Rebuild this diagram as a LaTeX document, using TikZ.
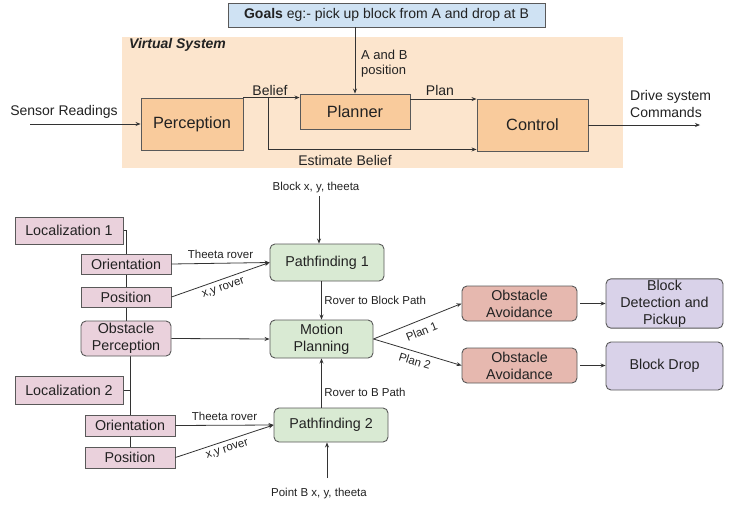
\documentclass[tikz,border=0pt]{standalone}
\usepackage{fontspec}
\setmainfont{Liberation Sans}
\usetikzlibrary{arrows.meta,backgrounds,calc}
\definecolor{vsbg}{HTML}{FCE5CD}
\definecolor{orfill}{HTML}{F9CB9C}
\definecolor{goalfill}{HTML}{CFE2F3}
\definecolor{pinkfill}{HTML}{EAD1DC}
\definecolor{greenfill}{HTML}{D9EAD3}
\definecolor{redfill}{HTML}{E6B8AF}
\definecolor{purpfill}{HTML}{D9D2E9}
\definecolor{bordc}{HTML}{595959}
\definecolor{linec}{HTML}{333333}
\definecolor{txtc}{HTML}{222222}
\newcommand\myTopFont{\fontsize{16.3}{19}\selectfont}
\newcommand\myMidFont{\fontsize{14}{17}\selectfont}
\newcommand\myLowFont{\fontsize{14.3}{17}\selectfont}
\newcommand\mySmallFont{\fontsize{11.5}{13}\selectfont}
\tikzset{
  base/.style={draw=bordc, line width=0.9pt, inner sep=1pt, align=center, text=txtc},
  sz/.style 2 args={minimum width=#1pt, minimum height=#2pt},
  topbox/.style={base, fill=orfill, font=\myTopFont},
  pinkbox/.style={base, fill=pinkfill, font=\myLowFont},
  pinkround/.style={pinkbox, rounded corners=5pt},
  greenbox/.style={base, fill=greenfill, rounded corners=5pt, font=\myLowFont},
  redbox/.style={base, fill=redfill, rounded corners=5pt, font=\myLowFont},
  purpbox/.style={base, fill=purpfill, rounded corners=5pt, font=\myLowFont},
  arr/.style={-{Stealth[length=5pt,width=4pt]}, line width=0.8pt, draw=linec},
  conn/.style={line width=0.8pt, draw=linec},
  lbl/.style={font=\mySmallFont, text=txtc, inner sep=1.5pt},
  toplbl/.style={font=\myMidFont, text=txtc, inner sep=1pt},
}
\begin{document}
\begin{tikzpicture}[x=1pt,y=-1pt]
\useasboundingbox (0,0) rectangle (746,508);
\begin{scope}[on background layer]
\fill[white] (0,0) rectangle (746,508);
\end{scope}

% ---------- top: virtual system ----------
\node[fill=vsbg, inner sep=0pt, sz={501}{131}] (vs) at (372.5,102.5) {};
\node[anchor=west, font=\bfseries\itshape\myMidFont, text=txtc, inner sep=1pt] (vslabel) at (128,45) {Virtual System};

\node[base, fill=goalfill, sz={317}{24}, font=\myMidFont] (goals) at (386.5,15) {\textbf{Goals} eg:- pick up block from A and drop at B};
\node[topbox, sz={102}{52}] (perc) at (192,124) {Perception};
\node[topbox, sz={110}{35}] (plan) at (355,111.5) {Planner};
\node[topbox, sz={111}{52}] (ctrl) at (532.5,125) {Control};

\coordinate (sens) at (30,124);
\draw[arr] (sens) -- (perc.west);
\node[toplbl] (senslbl) at (64,112) {Sensor Readings};

\draw[arr] (perc.north east) -- (perc.north east -| plan.west);
\node[toplbl] (belief) at (270,90) {Belief};
\coordinate (eb) at (268,98);
\draw[arr] (eb) |- ($(ctrl.south west)+(0,-2)$);
\node[toplbl] (estb) at (345,160) {Estimate Belief};

\draw[arr] (goals.south -| plan.north) -- (plan.north);
\node[toplbl, anchor=west, align=left, font=\fontsize{13}{15}\selectfont] (ab) at (360,63.5) {A and B\\position};

\path ($(plan.north east)+(0,5.5)$) coordinate (pl);
\draw[arr] (pl) -- (pl -| ctrl.west);
\node[toplbl] (planlbl) at (440,90) {Plan};

\coordinate (out) at (700,125);
\draw[arr] (ctrl.east) -- (out);
\node[toplbl, anchor=west, align=left] (drive) at (629,103.5) {Drive system\\Commands};

% ---------- lower part ----------
\node[pinkbox, sz={108}{27}] (loc1) at (69,230.5) {Localization 1};
\node[pinkbox, sz={90}{20}] (ori1) at (126,264) {Orientation};
\node[pinkbox, sz={90}{20}] (pos1) at (126,297) {Position};
\node[pinkround, sz={90}{35}] (obsp) at (126,338.5) {Obstacle\\Perception};
\node[pinkbox, sz={108}{28}] (loc2) at (69,390) {Localization 2};
\node[pinkbox, sz={90}{21}] (ori2) at (130,425.5) {Orientation};
\node[pinkbox, sz={90}{21}] (pos2) at (130,457.5) {Position};

\node[greenbox, sz={114}{37}] (pf1) at (327,262.5) {Pathfinding 1};
\node[greenbox, sz={103}{38}] (mp) at (321.5,339) {Motion\\Planning};
\node[greenbox, sz={114}{34}] (pf2) at (331,425) {Pathfinding 2};

\node[redbox, sz={115}{35}] (oa1) at (519.5,303.5) {Obstacle\\Avoidance};
\node[redbox, sz={115}{35}] (oa2) at (519.5,365.5) {Obstacle\\Avoidance};
\node[purpbox, sz={117}{49}] (bdp) at (664.5,303.5) {Block\\Detection and\\Pickup};
\node[purpbox, sz={117}{48}] (bd) at (664.5,366) {Block Drop};

\begin{scope}[on background layer]
\draw[conn] (loc1.east) -| (obsp.north);
\draw[conn] (obsp.south -| ori2.north) -- (pos2.north);
\draw[conn] (loc2.east) -- (loc2.east -| ori2.north);
\end{scope}

\draw[arr] (ori1.east) -- node[lbl, above=2.5pt] {Theeta rover} (pf1.west);
\draw[arr] (pos1.east) -- node[lbl, below=3pt, sloped] {x,y rover} (pf1.west);
\draw[arr] (obsp.east) -- (mp.west);

\node[lbl] (bklbl) at (316,188) {Block x, y, theeta};
\coordinate (bk) at (319,196);
\draw[arr] (bk) -- (bk |- pf1.north);

\draw[arr] (pf1.south -| mp.north) -- node[lbl, anchor=west, xshift=1pt] {Rover to Block Path} (mp.north);
\draw[arr] (pf2.north -| mp.south) -- node[lbl, anchor=west, xshift=1pt, pos=0.3] {Rover to B Path} (mp.south);

\coordinate (pb) at (327,478);
\draw[arr] (pb) -- (pb |- pf2.south);
\node[lbl] (pblbl) at (319,494) {Point B x, y, theeta};

\draw[arr] (ori2.east) -- node[lbl, above=2.5pt] {Theeta rover} (pf2.west);
\draw[arr] (pos2.east) -- node[lbl, below=3pt, sloped] {x,y rover} (pf2.west);

\draw[arr] (mp.east) -- node[lbl, below=5pt, sloped] {Plan 1} (oa1.west);
\draw[arr] (mp.east) -- node[lbl, below=3pt, sloped] {Plan 2} (oa2.west);

\draw[arr, shorten <=3pt] (oa1.east) -- (bdp.west);
\draw[arr, shorten <=3pt] (oa2.east) -- (oa2.east -| bd.west);
\end{tikzpicture}
\end{document}
